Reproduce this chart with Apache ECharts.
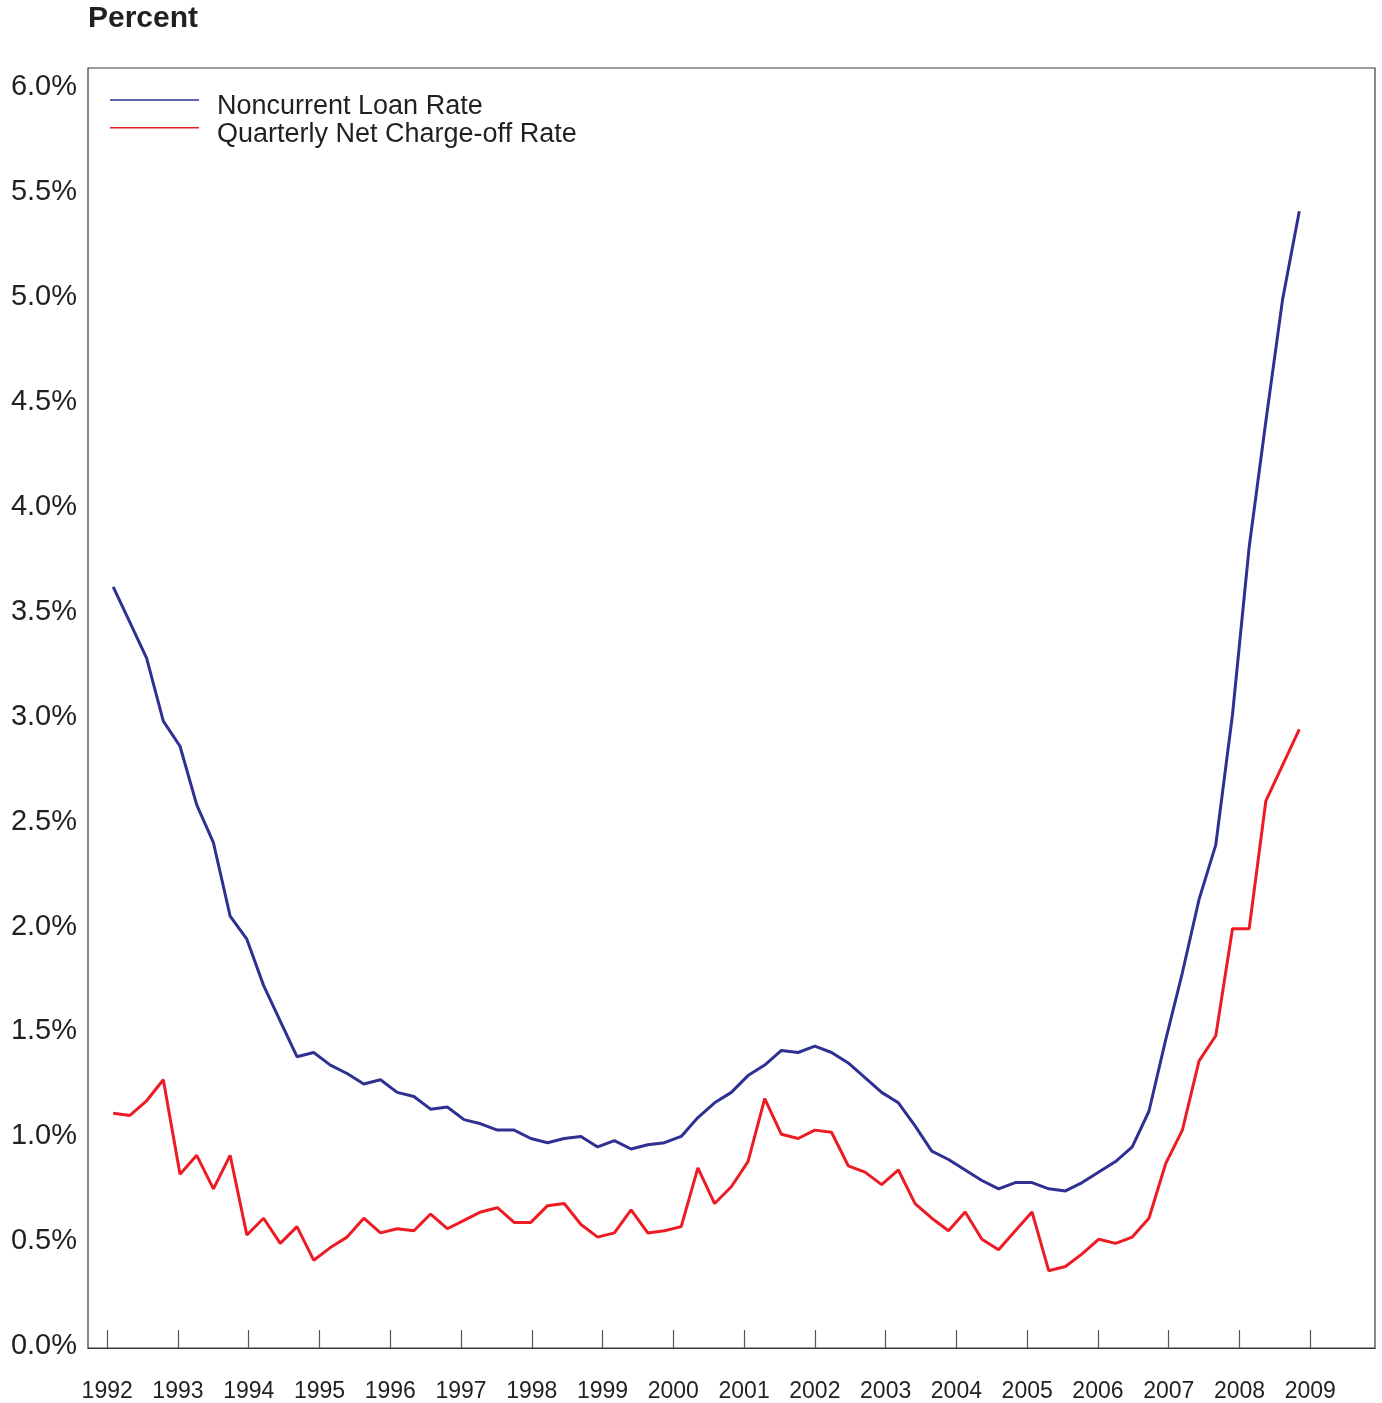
<!DOCTYPE html>
<html>
<head>
<meta charset="utf-8">
<title>Noncurrent Loan Rate and Quarterly Net Charge-off Rate</title>
<script src="https://cdn.jsdelivr.net/npm/echarts@6/dist/echarts.min.js"></script>
<style>
  html, body { margin: 0; padding: 0; background: #ffffff; }
  #chart { width: 1382px; height: 1403px; }
</style>
</head>
<body>
<div id="chart"></div>
<script>
// Quarterly observations, 18 years x 4 quarters
const START_YEAR = 1992;
const QUARTERS = [];
for (let y = START_YEAR; y < START_YEAR + 18; y++) {
  for (let q = 1; q <= 4; q++) QUARTERS.push(y + ' Q' + q);
}

// Noncurrent loan rate, percent
const NONCURRENT = [
  3.61, 3.44, 3.27, 2.97, 2.85, 2.57, 2.39, 2.04,
  1.93, 1.71, 1.54, 1.37, 1.39, 1.33, 1.29, 1.24,
  1.26, 1.20, 1.18, 1.12, 1.13, 1.07, 1.05, 1.02,
  1.02, 0.98, 0.96, 0.98, 0.99, 0.94, 0.97, 0.93,
  0.95, 0.96, 0.99, 1.08, 1.15, 1.20, 1.28, 1.33,
  1.40, 1.39, 1.42, 1.39, 1.34, 1.27, 1.20, 1.15,
  1.04, 0.92, 0.88, 0.83, 0.78, 0.74, 0.77, 0.77,
  0.74, 0.73, 0.77, 0.82, 0.87, 0.94, 1.11, 1.45,
  1.77, 2.12, 2.38, 3.00, 3.80, 4.40, 4.98, 5.40
];

// Quarterly net charge-off rate, percent
const CHARGE_OFF = [
  1.10, 1.09, 1.16, 1.26, 0.81, 0.90, 0.74, 0.90,
  0.52, 0.60, 0.48, 0.56, 0.40, 0.46, 0.51, 0.60,
  0.53, 0.55, 0.54, 0.62, 0.55, 0.59, 0.63, 0.65,
  0.58, 0.58, 0.66, 0.67, 0.57, 0.51, 0.53, 0.64,
  0.53, 0.54, 0.56, 0.84, 0.67, 0.75, 0.87, 1.17,
  1.00, 0.98, 1.02, 1.01, 0.85, 0.82, 0.76, 0.83,
  0.67, 0.60, 0.54, 0.63, 0.50, 0.45, 0.54, 0.63,
  0.35, 0.37, 0.43, 0.50, 0.48, 0.51, 0.60, 0.86,
  1.02, 1.35, 1.47, 1.98, 1.98, 2.59, 2.76, 2.93
];

// Axis tick labels
const YEAR_TICKS = [1992, 1993, 1994, 1995, 1996, 1997, 1998, 1999, 2000,
                    2001, 2002, 2003, 2004, 2005, 2006, 2007, 2008, 2009];
const PERCENT_TICKS = [0, 0.5, 1, 1.5, 2, 2.5, 3, 3.5, 4, 4.5, 5, 5.5, 6];

const FONT = '"Liberation Sans", Arial, Helvetica, sans-serif';
const INK = '#231f20';
const BLUE = '#2e3192';
const RED = '#ed1c24';

const Y_MIN = -0.0186;
const Y_MAX = 6.083;

// Legend key: a thin rule at the top of the symbol box, so the label sits a little below it
const KEY_ICON = 'path://M0,0h90v1.5h-90z M0,15h0.01v0.01h-0.01z';

function legendFor(name, top) {
  return {
    data: [name],
    left: 110,
    top: top,
    padding: 0,
    icon: KEY_ICON,
    itemWidth: 89,
    itemHeight: 15,
    selectedMode: false,
    textStyle: { fontFamily: FONT, fontSize: 27, color: INK, padding: [0, 0, 0, 13] }
  };
}

const chart = echarts.init(document.getElementById('chart'), null, { renderer: 'canvas' });

chart.setOption({
  animation: false,
  backgroundColor: '#ffffff',
  textStyle: { fontFamily: FONT, color: INK },
  title: {
    text: 'Percent',
    left: 88,
    top: 4,
    padding: 0,
    textStyle: { fontFamily: FONT, fontSize: 30, fontWeight: 'bold', color: INK }
  },
  legend: [
    legendFor('Noncurrent Loan Rate', 93.25),
    legendFor('Quarterly Net Charge-off Rate', 121)
  ],
  grid: [
    // frame with year and percent scales
    { left: 88, right: 7, top: 68, bottom: 55, show: true, borderColor: '#3a3a3a', borderWidth: 1.2, backgroundColor: 'transparent' },
    // plotting area for the quarterly series
    { left: 113.2, right: 82.7, top: 68, bottom: 55 }
  ],
  xAxis: [
    {
      gridIndex: 0,
      type: 'value',
      min: 1991.729,
      max: 2009.915,
      splitLine: { show: false },
      axisLine: { show: true, onZero: false, lineStyle: { color: '#3a3a3a', width: 1.2 } },
      axisTick: {
        show: true,
        inside: true,
        length: 18,
        customValues: YEAR_TICKS,
        lineStyle: { color: '#555555', width: 1.2 }
      },
      axisLabel: {
        show: true,
        customValues: YEAR_TICKS,
        margin: 32,
        fontFamily: FONT,
        fontSize: 23,
        color: INK,
        formatter: v => String(v)
      }
    },
    {
      gridIndex: 1,
      type: 'category',
      data: QUARTERS,
      boundaryGap: false,
      show: false
    }
  ],
  yAxis: [
    {
      gridIndex: 0,
      type: 'value',
      min: Y_MIN,
      max: Y_MAX,
      splitLine: { show: false },
      axisLine: { show: false },
      axisTick: { show: false },
      axisLabel: {
        show: true,
        customValues: PERCENT_TICKS,
        margin: 11,
        verticalAlign: 'top',
        lineHeight: 4,
        fontFamily: FONT,
        fontSize: 29,
        color: INK,
        formatter: v => v.toFixed(1) + '%'
      }
    },
    {
      gridIndex: 1,
      type: 'value',
      min: Y_MIN,
      max: Y_MAX,
      show: false
    }
  ],
  series: [
    {
      name: 'Noncurrent Loan Rate',
      type: 'line',
      xAxisIndex: 1,
      yAxisIndex: 1,
      data: NONCURRENT,
      symbol: 'none',
      color: BLUE,
      lineStyle: { color: BLUE, width: 3 },
      z: 3
    },
    {
      name: 'Quarterly Net Charge-off Rate',
      type: 'line',
      xAxisIndex: 1,
      yAxisIndex: 1,
      data: CHARGE_OFF,
      symbol: 'none',
      color: RED,
      lineStyle: { color: RED, width: 3 },
      z: 2
    }
  ]
});
</script>
</body>
</html>
